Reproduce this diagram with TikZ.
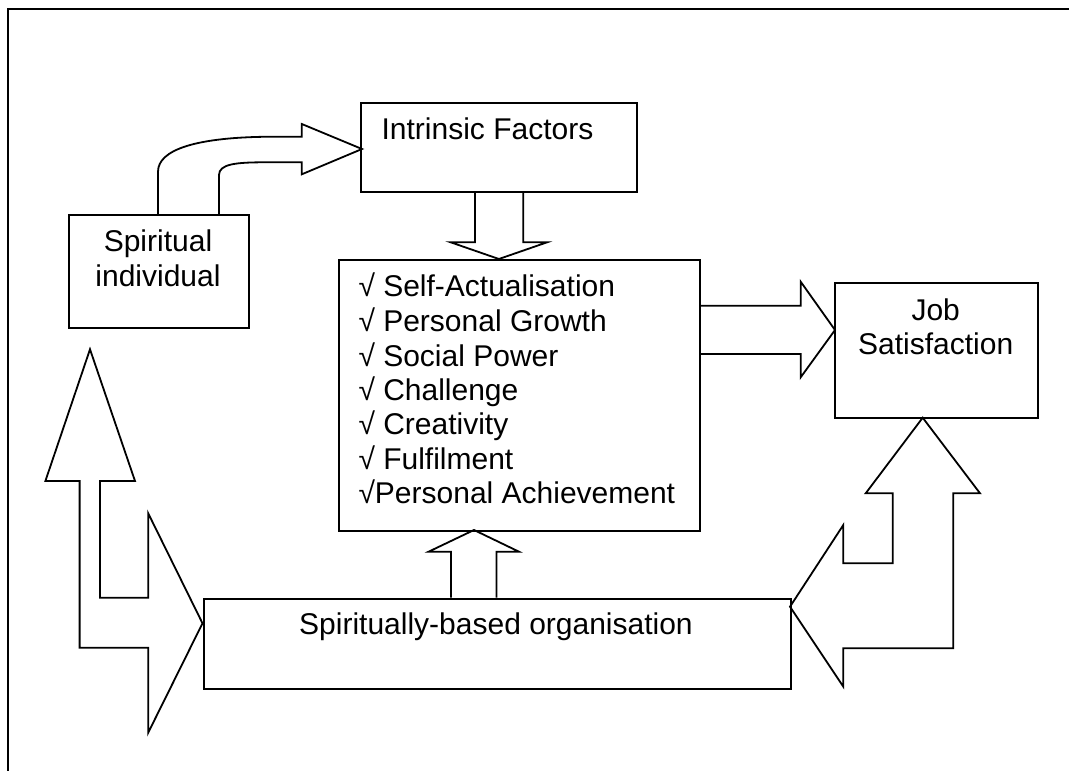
\documentclass[tikz,border=0pt]{standalone}
\usepackage{fontspec}
\setmainfont{Liberation Sans}
\begin{document}
\begin{tikzpicture}[x=1pt,y=-1pt,
  lw/.style={line width=1.8pt},
  box/.style={draw,lw,rectangle,inner sep=0pt,anchor=north west},
  txt/.style={inner sep=0pt,font=\fontsize{30}{34.7}\selectfont},
  barrow/.style={draw,lw,line join=miter,fill=white}]
\useasboundingbox (0,0) rectangle (1069,771);
% frame
\draw[lw] (8,771) -- (8,9) -- (1069,9);
% boxes
\node[box,minimum width=276pt,minimum height=89.3pt] (intr) at (360,101.7) {};
\node[box,minimum width=180.3pt,minimum height=112.7pt] (spin) at (67.9,214) {};
\node[box,minimum width=361.1pt,minimum height=271pt] (list) at (338.2,259) {};
\node[box,minimum width=203.3pt,minimum height=135pt] (job) at (834,281.7) {};
\node[box,minimum width=587pt,minimum height=90pt] (org) at (203,597.7) {};
% texts
\node[txt,anchor=base west] (tintr) at (381.4,139) {Intrinsic Factors};
\node[txt,anchor=base] (tspin1) at (158,251.7) {Spiritual};
\node[txt,anchor=base] (tspin2) at (158,286.7) {individual};
\node[txt,anchor=base] (tjob1) at (935.7,320) {Job};
\node[txt,anchor=base] (tjob2) at (935.7,354) {Satisfaction};
\node[txt,anchor=base] (torg) at (496,634) {Spiritually-based organisation};
\node[txt,anchor=base west] (l1) at (358.3,296) {√ Self-Actualisation};
\node[txt,anchor=base west] (l2) at (358.3,331.7) {√ Personal Growth};
\node[txt,anchor=base west] (l3) at (358.3,366.3) {√ Social Power};
\node[txt,anchor=base west] (l4) at (358.3,400.5) {√ Challenge};
\node[txt,anchor=base west] (l5) at (358.3,434.8) {√ Creativity};
\node[txt,anchor=base west] (l6) at (358.3,469.3) {√ Fulfilment};
\node[txt,anchor=base west] (l7) at (358.3,503.5) {√Personal Achievement};
% curved arrow spiritual individual -> intrinsic factors
\draw[lw,line join=miter] (158,214) -- (158,171.7)
  .. controls (158,150) and (195,136.7) .. (275,136.7)
  -- (301.8,136.7) -- (301.8,124) -- (362,149) -- (301.8,174.3) -- (301.8,162.3)
  -- (265,162.3) .. controls (236,162.3) and (219,164) .. (219,175) -- (219,214);
% down arrow intrinsic -> list
\draw[lw,line join=miter] (475,191) -- (475,242.3) -- (450.7,242.3) -- (498.9,259)
  -- (547.1,242.3) -- (523.2,242.3) -- (523.2,191);
% up arrow org -> list
\draw[lw,line join=miter] (451,597.7) -- (451,551.7) -- (428.6,551.7) -- (474,530)
  -- (519,551.7) -- (496.4,551.7) -- (496.4,597.7);
% right arrow list -> job
\draw[lw,line join=miter] (699.3,305.7) -- (800.7,305.7) -- (800.7,281.7) -- (835,330)
  -- (800.7,377.3) -- (800.7,354) -- (699.3,354);
% bent double arrow right (org <-> job)
\draw[lw,line join=miter] (922.7,417.7) -- (980,493.3) -- (953.3,493.3) -- (953.3,648.3)
  -- (843.3,648.3) -- (843.3,686.7) -- (790,606.7) -- (843.3,525) -- (843.3,563.3)
  -- (892.7,563.3) -- (892.7,493.3) -- (865.7,493.3) -- cycle;
% bent double arrow left (spiritual individual <-> org)
\draw[lw,line join=miter] (90,349.3) -- (135,481) -- (100,481) -- (100,597.7)
  -- (148.2,597.7) -- (148.2,513.3) -- (202.5,623.3) -- (148.2,732.7) -- (148.2,647.7)
  -- (79.6,647.7) -- (79.6,481) -- (45.4,481) -- cycle;
\end{tikzpicture}
\end{document}
